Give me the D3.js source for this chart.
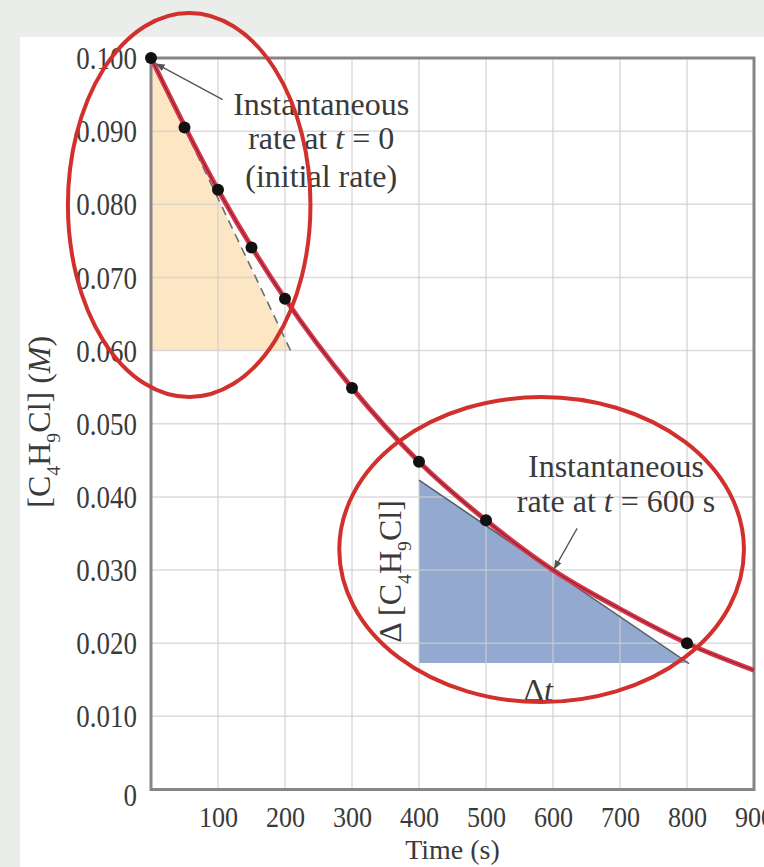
<!DOCTYPE html>
<html>
<head>
<meta charset="utf-8">
<script src="https://cdn.jsdelivr.net/npm/d3@7"></script>
<style>
  html, body { margin: 0; padding: 0; background: #ebedea; }
  svg { display: block; }
  text { font-family: "Liberation Serif", "Times New Roman", serif; }
</style>
</head>
<body>
<script>
// ---------- data ----------
const times = [0, 50, 100, 150, 200, 300, 400, 500, 800];
const conc = [0.1000, 0.0905, 0.0820, 0.0741, 0.0671, 0.0549, 0.0448, 0.0368, 0.0200];

// smooth fitted curve
const curveTimes = [0, 100, 200, 300, 400, 500, 600, 700, 800, 900];
const curveConc = [0.1000, 0.0820, 0.0671, 0.0549, 0.0448, 0.0368, 0.0300, 0.0247, 0.0200, 0.0163];

const xTicks = [100, 200, 300, 400, 500, 600, 700, 800, 900];
const xTickLabels = ["100", "200", "300", "400", "500", "600", "700", "800", "900"];
const yTicks = [0, 0.01, 0.02, 0.03, 0.04, 0.05, 0.06, 0.07, 0.08, 0.09, 0.10];
const yTickLabels = ["0", "0.010", "0.020", "0.030", "0.040", "0.050", "0.060", "0.070", "0.080", "0.090", "0.100"];

// tangent at t = 0 (initial rate) and its triangle
const tangent0 = [[0, 0.100], [210, 0.0597]];
const triangle0 = [[0, 0.100], [0, 0.060], [208, 0.060]];
// tangent at t = 600 s and its triangle
const tangent600 = [[400, 0.0423], [803, 0.0172]];
const triangle600 = [[400, 0.0423], [400, 0.0173], [800, 0.0173]];

// highlight ellipses (center t, center c, radius in s, radius in M)
const ellipses = [
  { t: 57, c: 0.0799, rt: 181, rc: 0.02625 },
  { t: 583, c: 0.0328, rt: 302, rc: 0.02085 }
];

// ---------- layout ----------
const W = 764, H = 867;
const x = d3.scaleLinear().domain([0, 900]).range([151, 754]);
const y = d3.scaleLinear().domain([0, 0.1]).range([789.5, 58]);

const svg = d3.select("body").append("svg").attr("width", W).attr("height", H);
svg.append("rect").attr("width", W).attr("height", H).attr("fill", "#ebedea");
svg.append("rect").attr("x", 20).attr("y", 37).attr("width", W - 20).attr("height", H - 37).attr("fill", "#ffffff");

const TXT = "#3a3a3a";

// triangles
const poly = d3.line().x(d => x(d[0])).y(d => y(d[1]));
svg.append("path").attr("d", poly(triangle0) + "Z").attr("fill", "#fde6c3");
svg.append("path").attr("d", poly(triangle600) + "Z").attr("fill", "#93a9cf");

// grid
svg.append("g").selectAll("line").data(xTicks.slice(0, -1)).join("line")
  .attr("x1", d => x(d)).attr("x2", d => x(d))
  .attr("y1", y(0)).attr("y2", y(0.1))
  .attr("stroke", "#cfcfcf").attr("stroke-opacity", 0.75).attr("stroke-width", 1.5);
svg.append("g").selectAll("line").data(yTicks.slice(1, -1)).join("line")
  .attr("y1", d => y(d)).attr("y2", d => y(d))
  .attr("x1", x(0)).attr("x2", x(900))
  .attr("stroke", "#cfcfcf").attr("stroke-opacity", 0.75).attr("stroke-width", 1.5);

// frame
svg.append("rect").attr("x", x(0)).attr("y", y(0.1))
  .attr("width", x(900) - x(0)).attr("height", y(0) - y(0.1))
  .attr("fill", "none").attr("stroke", "#858585").attr("stroke-width", 3);

// axes (labels only)
const SX = 0.87;
const yAxis = svg.append("g").attr("transform", `translate(${x(0)},0)`)
  .call(d3.axisLeft(y).tickValues(yTicks).tickFormat((d, i) => yTickLabels[i]).tickSize(0).tickPadding(14));
yAxis.select(".domain").remove();
yAxis.selectAll("text")
  .attr("font-family", "Liberation Serif").attr("font-size", 31).attr("fill", TXT)
  .attr("x", -14 / SX).attr("transform", `scale(${SX},1)`)
  .attr("dy", (d) => d === 0 ? "0.5em" : "0.34em");

const xAxis = svg.append("g").attr("transform", `translate(0,${y(0)})`)
  .call(d3.axisBottom(x).tickValues(xTicks).tickFormat((d, i) => xTickLabels[i]).tickSize(0).tickPadding(16));
xAxis.select(".domain").remove();
xAxis.selectAll("text")
  .attr("font-family", "Liberation Serif").attr("font-size", 30).attr("fill", TXT)
  .attr("transform", `scale(${SX},1)`);

// axis titles
svg.append("text").attr("x", (x(0) + x(900)) / 2).attr("y", 859)
  .attr("text-anchor", "middle").attr("font-size", 28).attr("fill", TXT).text("Time (s)");

function rich(sel, parts, fs) {
  let shift = 0;
  parts.forEach(p => {
    const ts = sel.append("tspan").text(p.t);
    const target = p.sub ? fs * 0.3 : 0;
    if (target !== shift) { ts.attr("dy", target - shift); shift = target; }
    if (p.sub) ts.attr("font-size", fs * 0.62);
    if (p.it) ts.attr("font-style", "italic");
  });
}

const yTitle = svg.append("text")
  .attr("transform", `translate(50,${(y(0.1) + y(0)) / 2 - 2}) rotate(-90)`)
  .attr("text-anchor", "middle").attr("font-size", 32).attr("fill", TXT);
rich(yTitle, [{ t: "[C" }, { t: "4", sub: true }, { t: "H" }, { t: "9", sub: true }, { t: "Cl] (" }, { t: "M", it: true }, { t: ")" }], 32);

// tangent lines
svg.append("path").attr("d", poly(tangent0)).attr("fill", "none")
  .attr("stroke", "#6e6e6e").attr("stroke-width", 1.6).attr("stroke-dasharray", "9,6");
svg.append("path").attr("d", poly(tangent600)).attr("fill", "none")
  .attr("stroke", "#55606e").attr("stroke-width", 1.6);

// fitted curve
const curveData = curveTimes.map((t, i) => [t, curveConc[i]]);
const cLine = d3.line().x(d => x(d[0])).y(d => y(d[1])).curve(d3.curveMonotoneX);
svg.append("path").attr("d", cLine(curveData)).attr("fill", "none")
  .attr("stroke", "#d83a4c").attr("stroke-width", 5);
svg.append("path").attr("d", cLine(curveData)).attr("fill", "none")
  .attr("stroke", "#8a2232").attr("stroke-width", 1.2);

// data points
svg.append("g").selectAll("circle").data(times).join("circle")
  .attr("cx", d => x(d)).attr("cy", (d, i) => y(conc[i])).attr("r", 6).attr("fill", "#111");

// arrowhead marker
svg.append("defs").append("marker").attr("id", "ah")
  .attr("viewBox", "0 0 10 10").attr("refX", 9).attr("refY", 5)
  .attr("markerWidth", 7).attr("markerHeight", 7).attr("orient", "auto")
  .append("path").attr("d", "M0,1 L10,5 L0,9 Z").attr("fill", "#555");

// leader lines
svg.append("line")
  .attr("x1", x(107)).attr("y1", y(0.0943)).attr("x2", x(8)).attr("y2", y(0.0992))
  .attr("stroke", "#555").attr("stroke-width", 1.3).attr("marker-end", "url(#ah)");
svg.append("line")
  .attr("x1", x(636)).attr("y1", y(0.0357)).attr("x2", x(602)).attr("y2", y(0.0302))
  .attr("stroke", "#555").attr("stroke-width", 1.3).attr("marker-end", "url(#ah)");

// annotation text
const AFS = 32;
function lines(tc, cs, rows) {
  rows.forEach((r, i) => {
    const t = svg.append("text").attr("x", x(tc)).attr("y", y(cs[i]))
      .attr("text-anchor", "middle").attr("font-size", AFS).attr("fill", TXT);
    rich(t, r, AFS);
  });
}
lines(254, [0.0922, 0.0875, 0.0824], [
  [{ t: "Instantaneous" }],
  [{ t: "rate at " }, { t: "t", it: true }, { t: " = 0" }],
  [{ t: "(initial rate)" }]
]);
lines(694, [0.0427, 0.0379], [
  [{ t: "Instantaneous" }],
  [{ t: "rate at " }, { t: "t", it: true }, { t: " = 600 s" }]
]);

const dC = svg.append("text")
  .attr("transform", `translate(401,${y(0.0298)}) rotate(-90)`)
  .attr("text-anchor", "middle").attr("font-size", 32).attr("fill", TXT);
rich(dC, [{ t: "Δ [C" }, { t: "4", sub: true }, { t: "H" }, { t: "9", sub: true }, { t: "Cl]" }], 32);

const dT = svg.append("text").attr("x", x(578)).attr("y", 701)
  .attr("text-anchor", "middle").attr("font-size", 32).attr("fill", TXT);
rich(dT, [{ t: "Δ" }, { t: "t", it: true }], 32);

// highlight ellipses
svg.append("g").selectAll("ellipse").data(ellipses).join("ellipse")
  .attr("cx", d => x(d.t)).attr("cy", d => y(d.c))
  .attr("rx", d => x(d.rt) - x(0)).attr("ry", d => y(0) - y(d.rc))
  .attr("fill", "none").attr("stroke", "#d1302c").attr("stroke-width", 4);
</script>
</body>
</html>
